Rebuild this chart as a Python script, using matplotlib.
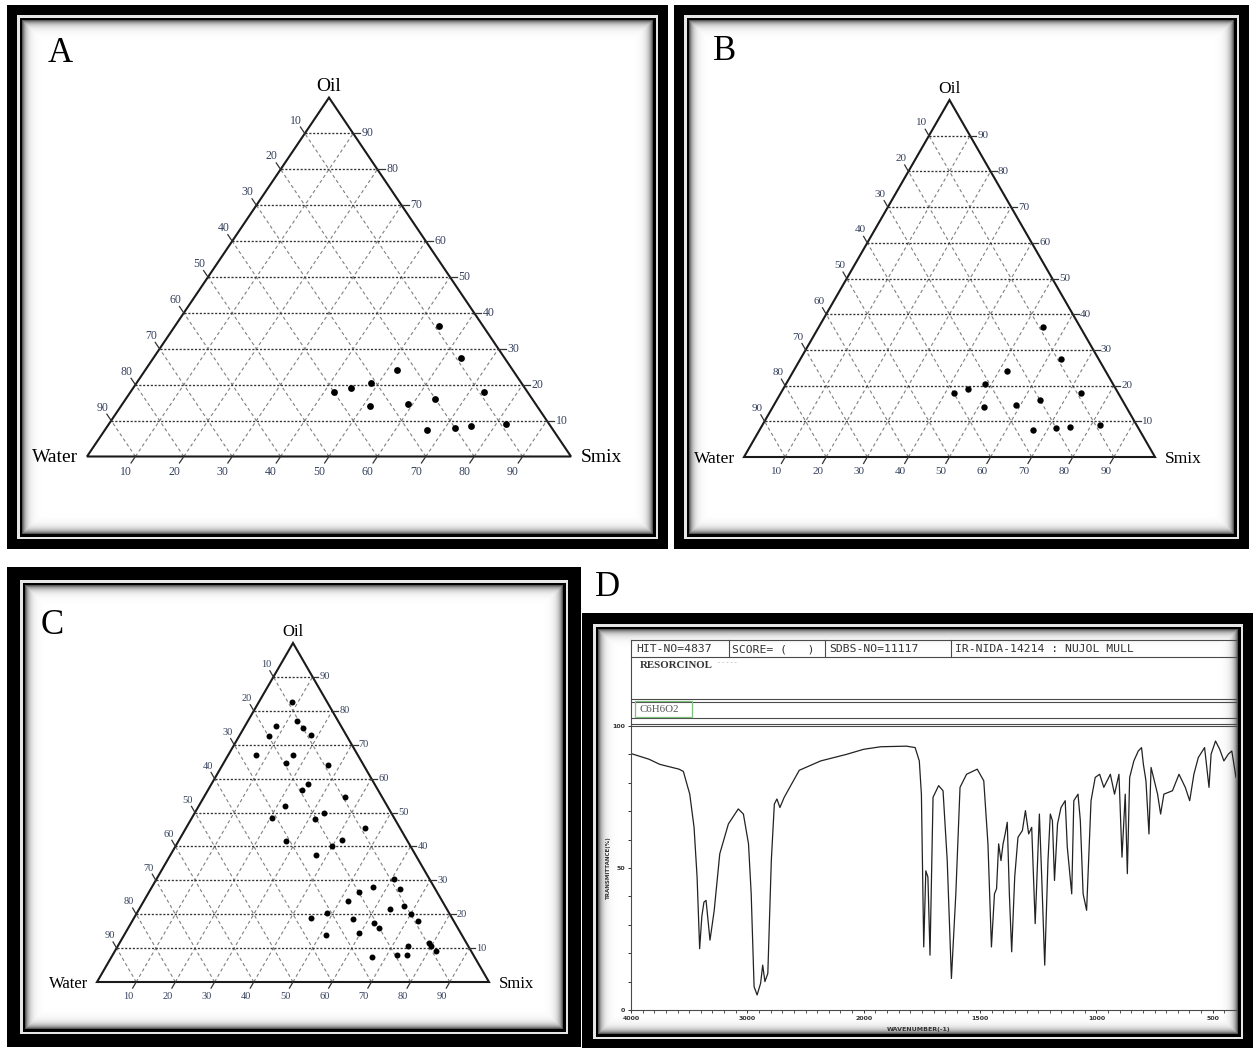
import numpy as np
import matplotlib
matplotlib.use("Agg")
import matplotlib.pyplot as plt
from matplotlib.patches import Rectangle, Polygon

W_PX, H_PX = 1253, 1048
SERIF = ["Liberation Serif", "DejaVu Serif"]
MONO = ["DejaVu Sans Mono"]
PT = 0.72  # points per pixel at 100 dpi

# ---------------- data ----------------
tern_ticks = [10, 20, 30, 40, 50, 60, 70, 80, 90]

smix_A = [54.5, 63.5, 52, 48.5, 45, 42, 51.5, 59, 64, 73, 66.5, 72, 75, 82]
oil_A = [36.5, 27.5, 24, 20.5, 19, 18, 14, 14.5, 16, 18, 7.5, 8, 8.5, 9]

smix_B = [54.5, 63.5, 52, 48.5, 45, 42, 51.5, 59, 64, 73, 66.5, 72, 75, 82]
oil_B = [36.5, 27.5, 24, 20.5, 19, 18, 14, 14.5, 16, 18, 7.5, 8, 8.5, 9]

smix_C = [8.5, 12.5, 15, 18, 8, 7.5, 7, 16.5, 16, 27, 24.5, 24, 36, 22, 33,
          31.5, 20.5, 45.5, 41.5, 40, 27.5, 37, 60.5, 56.5, 63.5, 53.5, 52,
          67, 64, 48.5, 45, 70, 56, 62, 73, 64, 59.5, 51.5, 79, 74, 80, 82,
          66.5, 72.5, 75]
oil_C = [82.5, 77, 75, 73, 75.5, 72.5, 67, 67, 64.5, 64, 58.5, 56.5, 54.5, 52,
         50, 48, 48.5, 45.5, 42, 40, 41.5, 37.5, 30.5, 28, 27.5, 26.5, 24,
         22.5, 21.5, 20.5, 19, 20, 18.5, 17.5, 18, 16, 14.5, 14, 11.5, 10.5,
         10.5, 9, 7.5, 8, 8]

ir_wavenumber = [4000, 3845, 3753, 3587, 3550, 3495, 3458, 3432, 3410, 3391,
                 3373, 3355, 3321, 3285, 3237, 3163, 3078, 3034, 2990, 2967,
                 2942, 2916, 2886, 2868, 2849, 2824, 2794, 2768, 2746, 2720,
                 2683, 2554, 2370, 2149, 2000, 1926, 1816, 1779, 1761, 1752,
                 1742, 1733, 1724, 1715, 1702, 1678, 1659, 1641, 1623, 1604,
                 1586, 1558, 1512, 1484, 1466, 1451, 1438, 1429, 1420, 1410,
                 1401, 1392, 1383, 1374, 1364, 1351, 1337, 1318, 1305, 1291,
                 1278, 1263, 1245, 1235, 1222, 1208, 1198, 1189, 1180, 1167,
                 1152, 1134, 1125, 1106, 1097, 1079, 1069, 1057, 1042, 1023,
                 1005, 986, 968, 940, 922, 903, 890, 876, 867, 857, 839, 820,
                 806, 798, 787, 774, 765, 737, 724, 710, 673, 645, 618, 599,
                 581, 562, 535, 516, 507, 488, 470, 452, 433, 418, 400]
ir_transmittance = [90.3, 88.3, 86.5, 84.8, 84.0, 76, 64.3, 46.8, 21.6, 33,
                    38, 38.6, 24.6, 35, 55, 65.5, 70.8, 69, 58.5, 41,
                    8.2, 5.3, 9.4, 15.8, 10, 12.9, 52.6, 72.5, 74.3, 71.3,
                    74.9, 84.4, 87.7, 90, 91.8, 92.7, 92.9, 92.4, 87.7, 76,
                    22.2, 49, 46.8, 19.3, 74.9, 79, 77.2, 52.6, 11.1, 41,
                    78.4, 83, 84.8, 80.7, 58.5, 22.2, 40.9, 42.7, 58.5, 52.6,
                    58.5, 62, 66.1, 40.9, 20.5, 46.8, 60.8, 63.2, 70.2, 62,
                    64.3, 30.4, 69, 46.8, 15.8, 52.6, 69, 66.7, 45.6, 65.5,
                    71.3, 73.7, 57.3, 40.9, 73.7, 76, 66.7, 40.9, 35.1, 73.7,
                    81.9, 83, 78.4, 83, 76, 83, 53.8, 76, 48, 81.9, 87.7, 91.2,
                    92.4, 86.5, 80.7, 62, 85.4, 76, 69, 76, 77.2, 83, 78.4, 73.7,
                    83, 88.9, 92.4, 78.4, 90.1, 94.7, 91.8, 87.7, 90.1, 91.2, 81.9]

ir_xticks = [4000, 3000, 2000, 1500, 1000, 500]
ir_xticklabels = ["4000", "3000", "2000", "1500", "1000", "500"]
ir_yticks = [0, 10, 20, 30, 40, 50, 60, 70, 80, 90, 100]
ir_yticklabels = ["0", "", "", "", "", "50", "", "", "", "", "100"]

header_cells = ["HIT-NO=4837", "SCORE= (   )", "SDBS-NO=11117",
                "IR-NIDA-14214 : NUJOL MULL"]
compound_name = "RESORCINOL"
formula = "C6H6O2"

# ---------------- figure ----------------
fig = plt.figure(figsize=(W_PX / 100, H_PX / 100), dpi=100)
bg = fig.add_axes([0, 0, 1, 1])
bg.axis("off")


def frame(x0, y0, x1, y1, band=10):
    bg.add_patch(Rectangle((x0, y0), x1 - x0, y1 - y0, fc="black", ec="none", zorder=1))
    a = band
    bg.add_patch(Rectangle((x0 + a, y0 + a), x1 - x0 - 2 * a, y1 - y0 - 2 * a,
                           fc="#e6e6e6", ec="none", zorder=1.1))
    a = band + 2.5
    bg.add_patch(Rectangle((x0 + a, y0 + a), x1 - x0 - 2 * a, y1 - y0 - 2 * a,
                           fc="black", ec="none", zorder=1.2))
    a = band + 5
    ix0, iy0, ix1, iy1 = x0 + a, y0 + a, x1 - a, y1 - a
    w = int(round(ix1 - ix0))
    h = int(round(iy1 - iy0))
    xx = np.arange(w) + 0.5
    yy = np.arange(h) + 0.5
    d = np.minimum.outer(np.minimum(yy, h - yy), np.minimum(xx, w - xx))
    img = 1 - 0.75 * np.exp(-d / 3.8)
    bg.imshow(img, extent=(ix0, ix1, iy1, iy0), cmap="gray", vmin=0, vmax=1,
              zorder=1.3, interpolation="bilinear", aspect="auto")


frame(7, 5, 668, 549, band=10)
frame(674, 5, 1249, 549, band=10)
frame(7, 567, 581, 1047, band=13)
frame(582, 613, 1254, 1050, band=11)

TICKC = "#35405c"


def ternary(Wx, Sx, base_y, apex_y, smix, oil, fs_tick, fs_vert, msize):
    ax = fig.add_axes([Wx / W_PX, 1 - base_y / H_PX, (Sx - Wx) / W_PX,
                       (base_y - apex_y) / H_PX])
    ax.set_xlim(0, 100)
    ax.set_ylim(0, 100)
    ax.axis("off")
    ax.patch.set_alpha(0)

    def xy(s, o):
        return s + o / 2.0, o

    for k in tern_ticks:
        (xa, ya), (xb, yb) = xy(k, 0), xy(k, 100 - k)
        ax.plot([xa, xb], [ya, yb], color="#808080", lw=0.8, ls=(0, (3, 2.5)), zorder=1)
        (xa, ya), (xb, yb) = xy(100 - k, 0), xy(0, 100 - k)
        ax.plot([xa, xb], [ya, yb], color="#808080", lw=0.8, ls=(0, (3, 2.5)), zorder=1)
    for k in tern_ticks:
        (xa, ya), (xb, yb) = xy(0, k), xy(100 - k, k)
        ax.plot([xa, xb], [ya, yb], color="#333333", lw=0.95, ls=(0, (1.6, 1.3)), zorder=2)

    ax.add_patch(Polygon([(0, 0), (100, 0), (50, 100)], closed=True, fill=False,
                         ec="#1a1a1a", lw=1.5, zorder=3, joinstyle="miter", clip_on=False))

    for k in tern_ticks:
        # right side: Oil
        x, y = xy(100 - k, k)
        ax.plot([x, x + 1.5], [y, y], color="#333333", lw=0.9, clip_on=False, zorder=3)
        ax.text(x + 1.8, y, str(k), ha="left", va="center", fontsize=fs_tick,
                family=SERIF, color=TICKC)
        # left side: Water
        x, y = xy(0, 100 - k)
        ax.plot([x, x - 0.9], [y, y + 1.8], color="#333333", lw=0.9, clip_on=False, zorder=3)
        ax.text(x - 1.8, y + 3.6, str(k), ha="center", va="center", fontsize=fs_tick,
                family=SERIF, color=TICKC)
        # bottom: Smix
        x, y = xy(k, 0)
        ax.plot([x, x - 0.9], [y, y - 1.8], color="#333333", lw=0.9, clip_on=False, zorder=3)
        ax.text(x - 2.0, y - 4.2, str(k), ha="center", va="center", fontsize=fs_tick,
                family=SERIF, color=TICKC)

    px, py = xy(np.array(smix, float), np.array(oil, float))
    ax.scatter(px, py, s=msize ** 2, c="black", lw=0, zorder=5, clip_on=False)

    ax.annotate("Oil", xy=(50, 100), xytext=(0, 7 * PT), textcoords="offset points",
                ha="center", va="baseline", fontsize=fs_vert, family=SERIF,
                annotation_clip=False)
    ax.annotate("Water", xy=(0, 0), xytext=(-9 * PT, -6 * PT), textcoords="offset points",
                ha="right", va="baseline", fontsize=fs_vert, family=SERIF,
                annotation_clip=False)
    ax.annotate("Smix", xy=(100, 0), xytext=(10 * PT, -6 * PT), textcoords="offset points",
                ha="left", va="baseline", fontsize=fs_vert, family=SERIF,
                annotation_clip=False)
    return ax


ternary(87, 571, 456.5, 97.6, smix_A, oil_A, 8.5, 14, 4.9)
ternary(744, 1155, 457, 100, smix_B, oil_B, 8, 12.5, 4.6)
ternary(97, 489, 982, 643, smix_C, oil_C, 7.5, 12, 4.3)

# panel letters
for lab, x, y in [("A", 60, 62), ("B", 725, 60), ("C", 52, 634), ("D", 607, 596)]:
    bg.text(x, y, lab, fontsize=25, family=SERIF, ha="center", va="baseline", zorder=10)

# ---------------- panel D header ----------------
LC = "#4a4a4a"
hx0, hx1 = 631, 1236
for yy_ in [640, 657, 699, 702, 718, 723.5]:
    bg.plot([hx0, hx1], [yy_, yy_], color=LC, lw=0.8, zorder=5)
bg.plot([hx0, hx0], [640, 726], color=LC, lw=0.8, zorder=5)
for xv in [729, 825, 951]:
    bg.plot([xv, xv], [640, 657], color=LC, lw=0.8, zorder=5)
for txt, xv in zip(header_cells, [636, 732, 829, 955]):
    bg.text(xv, 649, txt, fontsize=8.2, family=MONO, ha="left", va="center",
            color="#333333", zorder=6)
bg.text(640, 665, compound_name, fontsize=7.8, family=SERIF, fontweight="bold",
        ha="left", va="center", color="#333333", zorder=6)
bg.text(718, 662, "- - - - -", fontsize=5, family=SERIF, ha="left", va="center",
        color="#999999", zorder=6)
bg.add_patch(Rectangle((635, 701), 57, 16, fill=False, ec="#7fbf7f", lw=0.9, zorder=6))
bg.text(640, 709.5, formula, fontsize=7.8, family=SERIF, ha="left", va="center",
        color="#555555", zorder=6)
bg.text(608, 868, "TRANSMITTANCE(%)", rotation=90, fontsize=4, fontweight="bold",
        ha="center", va="center", color="#333333", zorder=6)
bg.text(919, 1030, "WAVENUMBER(-1)", fontsize=4.5, fontweight="bold",
        ha="center", va="center", color="#333333", zorder=6)

bg.set_xlim(0, W_PX)
bg.set_ylim(H_PX, 0)

# ---------------- panel D spectrum ----------------
axd = fig.add_axes([631 / W_PX, 1 - 1010 / H_PX, 605 / W_PX, 284 / H_PX])
axd.patch.set_alpha(0)


def fwd(w):
    w = np.asarray(w, float)
    return np.where(w >= 2000, 3.2 + (w - 2000) / 1000.0, (w - 400) / 500.0)


def inv(v):
    v = np.asarray(v, float)
    return np.where(v >= 3.2, 2000 + (v - 3.2) * 1000.0, 400 + v * 500.0)


axd.set_xscale("function", functions=(fwd, inv))
axd.plot(ir_wavenumber, ir_transmittance, color="#222222", lw=0.9)
axd.set_xlim(4000, 400)
axd.set_ylim(0, 100)
axd.set_xticks(ir_xticks)
axd.set_xticklabels(ir_xticklabels)
axd.set_xticks(list(range(4000, 2000, -100)) + list(range(2000, 400, -50)), minor=True)
axd.set_yticks(ir_yticks)
axd.set_yticklabels(ir_yticklabels)
axd.tick_params(axis="both", which="major", direction="out", length=2.5, width=0.7,
                labelsize=4.5, pad=1.5, colors="#333333")
axd.tick_params(axis="x", which="minor", direction="out", length=1.8, width=0.6,
                colors="#333333")
axd.tick_params(axis="y", which="minor", length=0)
for lab in axd.get_xticklabels() + axd.get_yticklabels():
    lab.set_fontweight("bold")
axd.spines["right"].set_visible(False)
for s in ["left", "bottom", "top"]:
    axd.spines[s].set_color(LC)
    axd.spines[s].set_linewidth(0.8)

fig.savefig("out.png", dpi=100)
